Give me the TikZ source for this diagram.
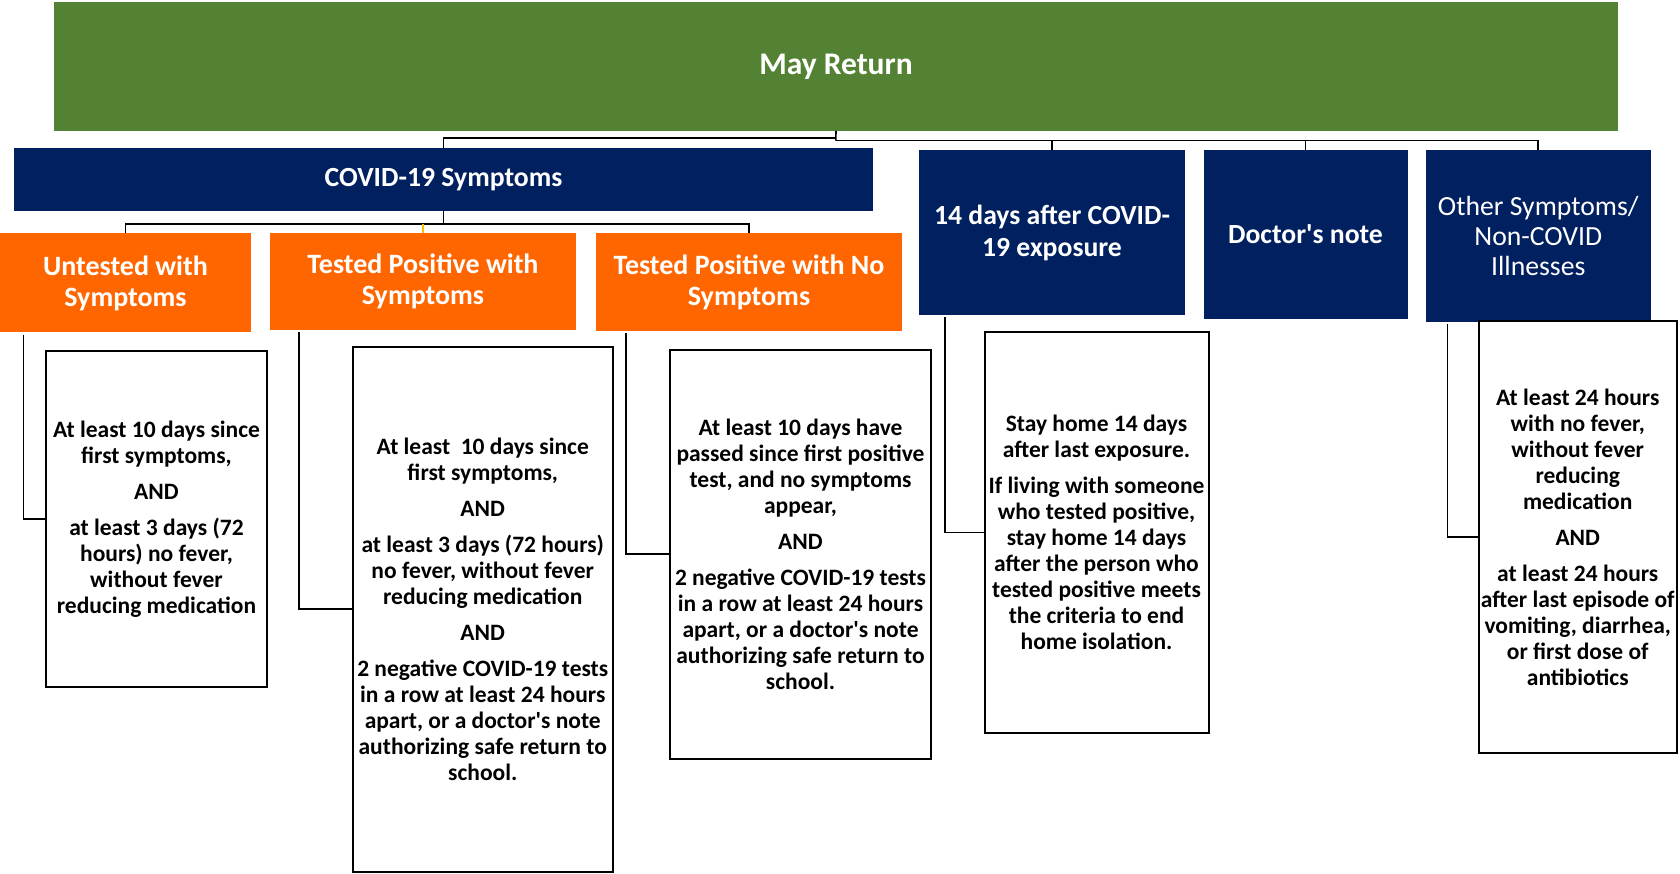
\documentclass[tikz,border=0pt]{standalone}
\usepackage{fontspec}
\setmainfont{Carlito}[Ligatures=TeXOff]
\definecolor{mgreen}{HTML}{548235}
\definecolor{mnavy}{HTML}{002060}
\definecolor{morange}{HTML}{FF6600}
\definecolor{myellow}{HTML}{FFC000}
\begin{document}
\begin{tikzpicture}[x=1pt,y=-1pt,
  base/.style={anchor=north west,inner sep=0pt,outer sep=0pt,align=center},
  greenbox/.style={base,fill=mgreen,text=white,font=\fontsize{31.5}{36}\selectfont\bfseries},
  navybox/.style={base,fill=mnavy,text=white,font=\fontsize{27.7}{32}\selectfont\bfseries},
  navyreg/.style={base,fill=mnavy,text=white,font=\fontsize{27.7}{30}\selectfont},
  orangebox/.style={base,fill=morange,text=white,font=\fontsize{28}{31}\selectfont\bfseries},
  whitebox/.style={base,draw=black,line width=2pt,fill=white,text=black,font=\fontsize{23.5}{26}\selectfont\bfseries},
  conn/.style={draw=black,line width=1.6pt},
  yconn/.style={draw=myellow,line width=1.6pt}]
\useasboundingbox (0,0) rectangle (1680,874);

% top level
\node[greenbox,minimum width=1564pt,minimum height=129pt] (green) at (54,2) {May Return};

% second level
\node[navybox,minimum width=859pt,minimum height=63pt] (covid) at (14,148) {COVID-19 Symptoms};
\node[navybox,minimum width=266pt,minimum height=165pt] (n14) at (919,150) {14 days after COVID-\\19 exposure};
\node[navybox,minimum width=204pt,minimum height=169pt] (doc) at (1203.5,150) {Doctor's note};
\node[navyreg,minimum width=224.5pt,minimum height=172.5pt] (oth) at (1426,150) {Other Symptoms/\\Non-COVID\\Illnesses};

% third level
\node[orangebox,minimum width=251pt,minimum height=99pt] (un) at (0,233.5) {Untested with\\Symptoms};
\node[orangebox,minimum width=306pt,minimum height=96.5pt] (tps) at (270,233.5) {Tested Positive with\\Symptoms};
\node[orangebox,minimum width=306pt,minimum height=98pt] (tpn) at (596,233.5) {Tested Positive with No\\Symptoms};

% detail boxes
\node[whitebox,minimum width=221pt,minimum height=336.5pt] (b1) at (46,350.5)
 {At least 10 days since\\first symptoms,\\[10pt]AND\\[10pt]at least 3 days (72\\hours) no fever,\\without fever\\reducing medication};
\node[whitebox,minimum width=260.5pt,minimum height=524.5pt] (b2) at (352.5,347)
 {At least\ \ 10 days since\\first symptoms,\\[10pt]AND\\[10pt]at least 3 days (72 hours)\\no fever, without fever\\reducing medication\\[10pt]AND\\[10pt]2 negative COVID-19 tests\\in a row at least 24 hours\\apart, or a doctor's note\\authorizing safe return to\\school.};
\node[whitebox,minimum width=261pt,minimum height=409pt] (b3) at (670,349.5)
 {At least 10 days have\\passed since first positive\\test, and no symptoms\\appear,\\[10pt]AND\\[10pt]2 negative COVID-19 tests\\in a row at least 24 hours\\apart, or a doctor's note\\authorizing safe return to\\school.};
\node[whitebox,minimum width=224pt,minimum height=401pt] (b4) at (984.5,332)
 {Stay home 14 days\\after last exposure.\\[10pt]If living with someone\\who tested positive,\\stay home 14 days\\after the person who\\tested positive meets\\the criteria to end\\home isolation.};
\node[whitebox,minimum width=198.5pt,minimum height=431.5pt] (b5) at (1478.5,321.5)
 {At least 24 hours\\with no fever,\\without fever\\reducing\\medication\\[10pt]AND\\[10pt]at least 24 hours\\after last episode of\\vomiting, diarrhea,\\or first dose of\\antibiotics};

% connectors from top
\coordinate (gj) at (835.8,138.3);
\coordinate (gk) at (835.8,140.7);
\draw[conn] (green.south) -- (gk);
\draw[conn] (gj) -| (covid.north);
\draw[conn] (gk) -| (oth.north);
\draw[conn] (gk -| n14.north) -- (n14.north);
\draw[conn] (gk -| doc.north) -- (doc.north);

% connectors from COVID-19 Symptoms
\coordinate (cj) at (443.5,224);
\draw[conn] (covid.south) -- (cj);
\draw[conn] (un.north) |- (cj) -| (tpn.north);
\draw[yconn] (cj -| tps.north) -- (tps.north);

% elbow connectors to detail boxes
\coordinate (e1) at (23.6,334.5);
\coordinate (e2) at (299,332);
\coordinate (e3) at (625.7,333.5);
\coordinate (e4) at (945,317);
\coordinate (e5) at (1447.5,324.5);
\draw[conn] (e1) |- (b1.west);
\draw[conn] (e2) |- (b2.west);
\draw[conn] (e3) |- (b3.west);
\draw[conn] (e4) |- (b4.west);
\draw[conn] (e5) |- (b5.west);
\end{tikzpicture}
\end{document}
